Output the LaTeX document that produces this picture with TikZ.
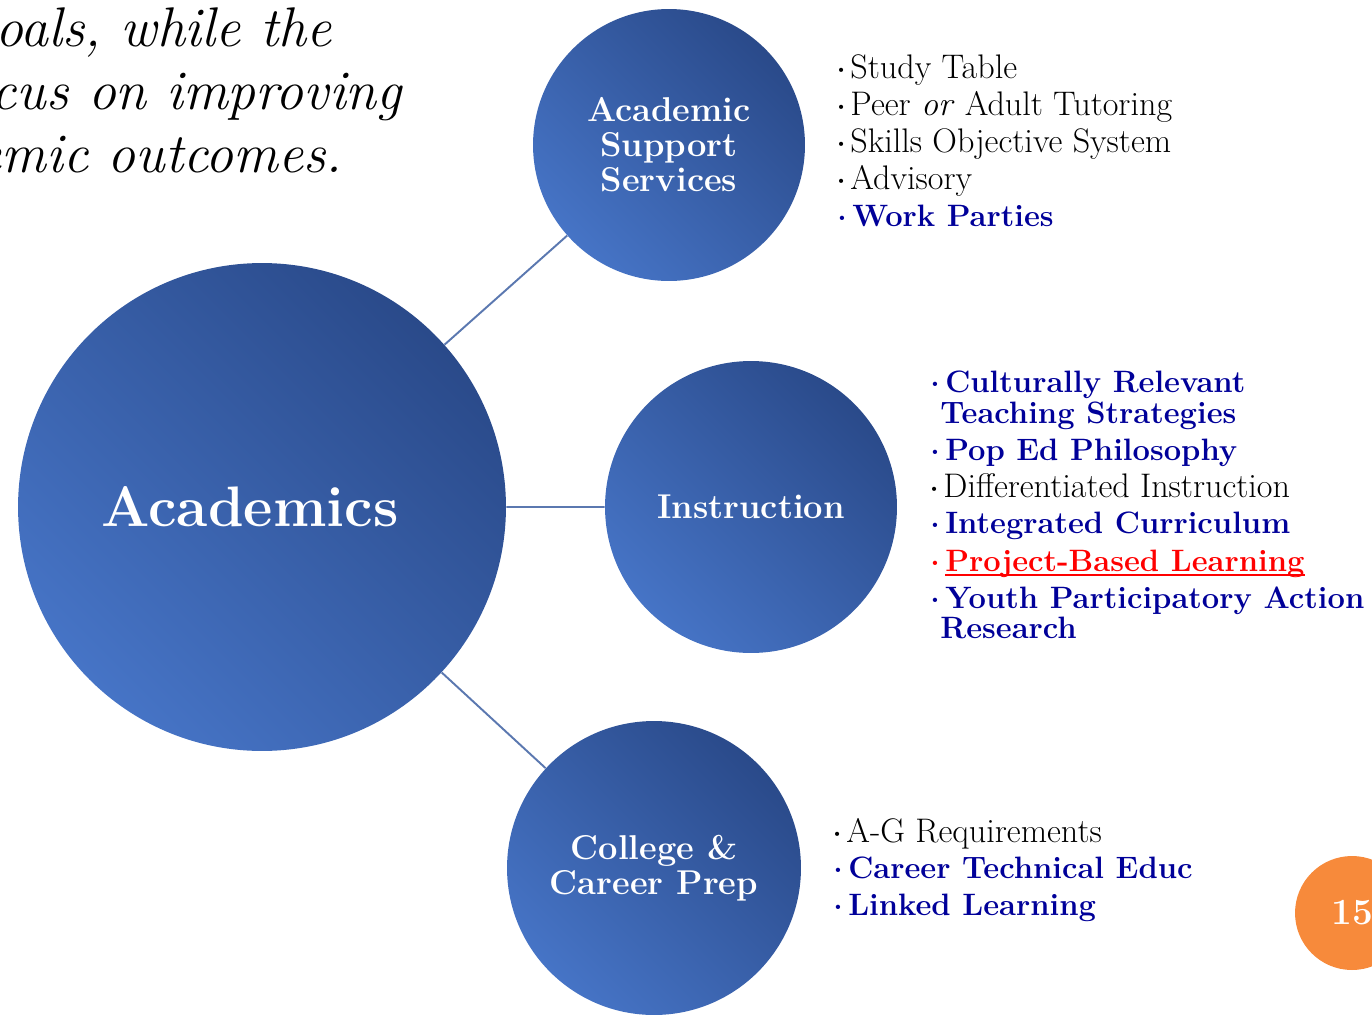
\documentclass[tikz,border=0pt]{standalone}
\usepackage{fontspec}
\usepackage{xcolor}
\definecolor{discdark}{HTML}{2A4A8A}
\definecolor{disclight}{HTML}{4674C6}
\definecolor{linkblue}{HTML}{5B78B0}
\definecolor{itemblue}{HTML}{000099}
\definecolor{pageorange}{HTML}{F78A3B}
\newcommand{\bul}{\raisebox{2.8pt}{\fontsize{8}{8}\selectfont\textbullet}\hspace{2pt}}
\newlength{\ulwidth}
\newcommand{\redunder}[1]{\settowidth{\ulwidth}{#1}\rlap{\rule[-3pt]{\ulwidth}{1.1pt}}#1}

\begin{document}
\begin{tikzpicture}[x=0.02cm,y=-0.02cm,
    disc/.style={circle,inner sep=0pt,top color=discdark,bottom color=disclight,shading angle=-45,text=white,align=center},
    hub/.style={disc,minimum size=9.76cm,font=\fontsize{32.5}{36}\selectfont\bfseries},
    spoke/.style={disc,minimum size=5.44cm,font=\fontsize{19.6}{20}\selectfont\bfseries},
    link/.style={draw=linkblue,line width=1.1pt},
    lead/.style={anchor=base east,inner sep=0pt,font=\fontsize{31.8}{36}\selectfont\itshape},
    plain/.style={anchor=base west,inner sep=0pt,font=\fontsize{19.4}{21}\selectfont},
    strong/.style={anchor=base west,inner sep=0pt,text=itemblue,font=\fontsize{17.6}{20}\selectfont\bfseries}]
    \useasboundingbox (0,0) rectangle (1372,1014);

    \node[lead] (t1) at (332,46) {oals, while the};
    \node[lead] (t2) at (402,109) {cus on improving};
    \node[lead] (t3) at (343,172) {emic outcomes.};

    \node[hub] (acad) at (262,507) {Academics\hspace{0.48cm}};
    \node[spoke] (support) at (669,145) {Academic\\Support\\Services};
    \node[spoke,minimum size=5.84cm] (instr) at (751,507) {Instruction};
    \node[spoke,minimum size=5.88cm] (prep) at (654,868) {College \&\\Career Prep};

    \draw[link] (acad) -- (support) (acad) -- (instr) (acad) -- (prep);

    \node[plain] (s1) at (835,78) {\bul Study Table};
    \node[plain] (s2) at (835,115) {\bul Peer \textit{or} Adult Tutoring};
    \node[plain] (s3) at (835,152) {\bul Skills Objective System};
    \node[plain] (s4) at (835,189) {\bul Advisory};
    \node[strong] (s5) at (835,226) {\bul Work Parties};

    \node[strong] (i1) at (928,392) {\bul Culturally Relevant};
    \node[strong] (i1b) at (940,423) {Teaching Strategies};
    \node[strong] (i2) at (928,460) {\bul Pop Ed Philosophy};
    \node[plain] (i3) at (928,497) {\bul Differentiated Instruction};
    \node[strong] (i4) at (928,533) {\bul Integrated Curriculum};
    \node[strong,text=red] (i5) at (928,571) {\bul \redunder{Project-Based Learning}};
    \node[strong] (i6) at (928,608) {\bul Youth Participatory Action};
    \node[strong] (i6b) at (940,638) {Research};

    \node[plain] (p1) at (831,842) {\bul A-G Requirements};
    \node[strong] (p2) at (831,878) {\bul Career Technical Educ};
    \node[strong] (p3) at (831,915) {\bul Linked Learning};

    \node[circle,fill=pageorange,minimum size=2.28cm,inner sep=0pt,text=white,font=\fontsize{21}{24}\selectfont\bfseries] (pg) at (1352,913) {15};
\end{tikzpicture}
\end{document}
